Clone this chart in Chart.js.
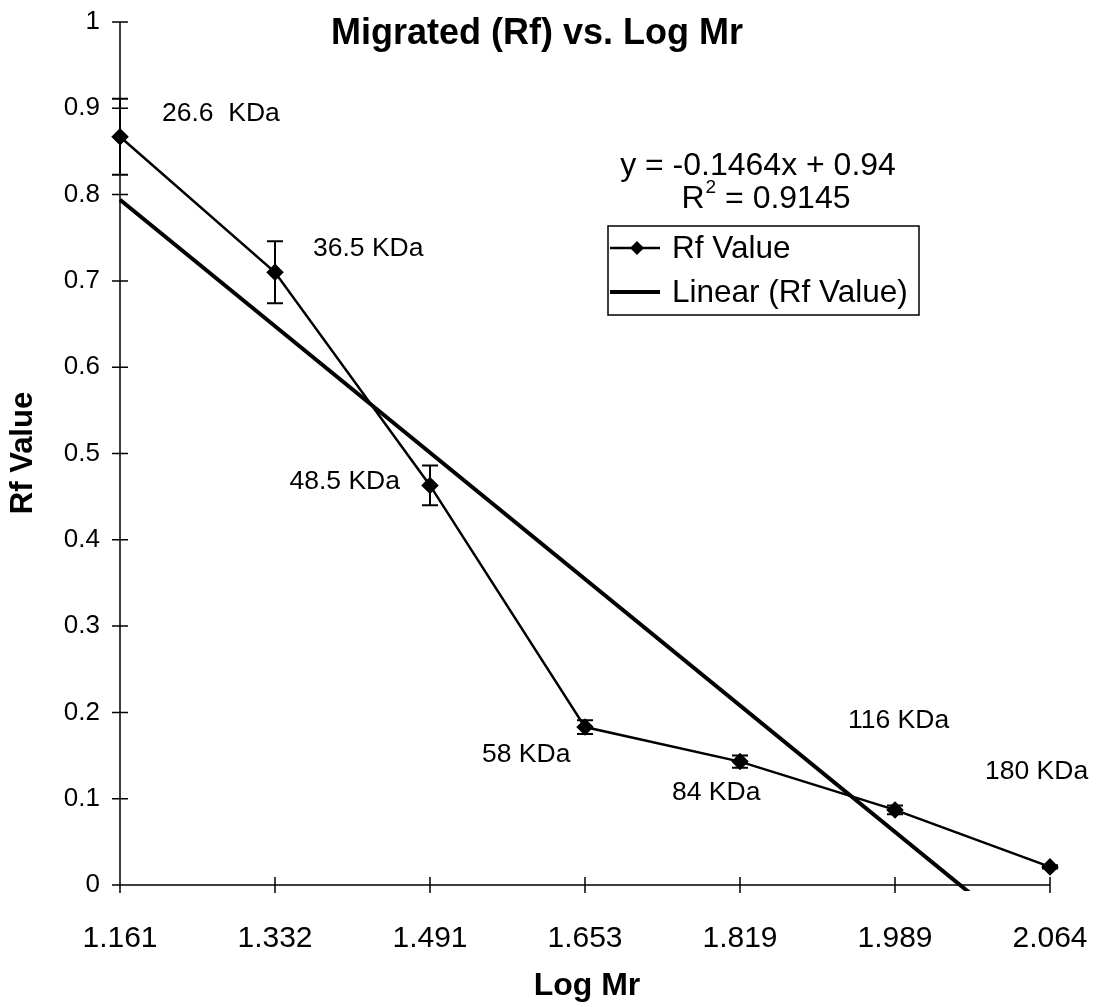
<!DOCTYPE html>
<html>
<head>
<meta charset="utf-8">
<title>Migrated (Rf) vs. Log Mr</title>
<script src="https://cdn.jsdelivr.net/npm/chart.js@4.4.1/dist/chart.umd.min.js"></script>
<style>
  html, body { margin: 0; padding: 0; background: #fff; }
  #wrap { width: 1100px; height: 1007px; position: relative; }
</style>
</head>
<body>
<div id="wrap"><canvas id="grafica"></canvas></div>
<script>
// values
const logMr = ["1.161", "1.332", "1.491", "1.653", "1.819", "1.989", "2.064"];
const rfValues = [0.867, 0.710, 0.463, 0.183, 0.143, 0.087, 0.021];
const rfErrors = [0.044, 0.036, 0.023, 0.008, 0.007, 0.005, 0.002];
const kdaLabels = ["26.6  KDa", "36.5 KDa", "48.5 KDa", "58 KDa", "84 KDa", "116 KDa", "180 KDa"];
// linear trend, only the two ends (y = -0.1464x + 0.94)
const trendValues = [0.794, null, null, null, null, null, -0.085];
const yTicks = [0, 0.1, 0.2, 0.3, 0.4, 0.5, 0.6, 0.7, 0.8, 0.9, 1];

const FONT = '"Liberation Sans", Arial, Helvetica, sans-serif';
Chart.defaults.font.family = FONT;
Chart.defaults.color = "#000";

// label placement next to each point: dx, dy, align
const labelPos = [
  [42, -23, "left"], [38, -24, "left"], [-30, -4, "right"], [-103, 28, "left"],
  [-68, 31, "left"], [-47, -89, "left"], [-65, -95, "left"]
];

const extras = {
  id: "extras",
  beforeDatasetsDraw(chart) {
    const ctx = chart.ctx, a = chart.chartArea;
    const xs = chart.scales.x, ys = chart.scales.y;
    ctx.save();
    ctx.strokeStyle = "#000";
    ctx.lineWidth = 1.5;
    ctx.beginPath();
    ctx.moveTo(a.left, a.top);
    ctx.lineTo(a.left, a.bottom);
    ctx.lineTo(a.right, a.bottom);
    yTicks.forEach(v => {
      const py = ys.getPixelForValue(v);
      ctx.moveTo(a.left - 8, py);
      ctx.lineTo(a.left + 8, py);
    });
    logMr.forEach((_, i) => {
      const px = xs.getPixelForValue(i);
      ctx.moveTo(px, a.bottom - 8);
      ctx.lineTo(px, a.bottom + 8);
    });
    ctx.stroke();
    ctx.restore();
  },
  afterDatasetsDraw(chart) {
    const ctx = chart.ctx;
    const xs = chart.scales.x, ys = chart.scales.y;
    ctx.save();
    // error bars
    ctx.strokeStyle = "#000";
    ctx.lineWidth = 2;
    rfValues.forEach((v, i) => {
      const px = xs.getPixelForValue(i);
      const top = ys.getPixelForValue(v + rfErrors[i]);
      const bot = ys.getPixelForValue(v - rfErrors[i]);
      ctx.beginPath();
      ctx.moveTo(px, top); ctx.lineTo(px, bot);
      ctx.moveTo(px - 8, top); ctx.lineTo(px + 8, top);
      ctx.moveTo(px - 8, bot); ctx.lineTo(px + 8, bot);
      ctx.stroke();
    });

    // point labels
    ctx.fillStyle = "#000";
    ctx.font = "26.5px " + FONT;
    ctx.textBaseline = "middle";
    kdaLabels.forEach((t, i) => {
      const px = xs.getPixelForValue(i);
      const py = ys.getPixelForValue(rfValues[i]);
      ctx.textAlign = labelPos[i][2];
      ctx.fillText(t, px + labelPos[i][0], py + labelPos[i][1]);
    });

    // title and axis titles
    ctx.textAlign = "center";
    ctx.font = "bold 36px " + FONT;
    ctx.fillText("Migrated (Rf) vs. Log Mr", 537, 34);
    ctx.font = "bold 32px " + FONT;
    ctx.fillText("Log Mr", 587, 986);
    ctx.save();
    ctx.translate(23, 453);
    ctx.rotate(-Math.PI / 2);
    ctx.font = "bold 31px " + FONT;
    ctx.fillText("Rf Value", 0, 0);
    ctx.restore();

    // trendline equation
    ctx.font = "32px " + FONT;
    ctx.fillText("y = -0.1464x + 0.94", 758, 166);
    const r2a = "R", r2b = "2", r2c = " = 0.9145";
    const wA = ctx.measureText(r2a).width, wC = ctx.measureText(r2c).width;
    ctx.font = "19px " + FONT;
    const wB = ctx.measureText(r2b).width + 1;
    let ex = 766 - (wA + wB + wC) / 2;
    ctx.textAlign = "left";
    ctx.font = "32px " + FONT;
    ctx.fillText(r2a, ex, 199);
    ctx.font = "19px " + FONT;
    ctx.fillText(r2b, ex + wA + 1, 188);
    ctx.font = "32px " + FONT;
    ctx.fillText(r2c, ex + wA + wB, 199);

    // legend box
    ctx.lineWidth = 1.5;
    ctx.strokeRect(608, 226, 311, 89);
    ctx.lineWidth = 2.5;
    ctx.beginPath();
    ctx.moveTo(610, 248); ctx.lineTo(660, 248);
    ctx.stroke();
    ctx.beginPath();
    ctx.moveTo(637, 241); ctx.lineTo(644, 248); ctx.lineTo(637, 255); ctx.lineTo(630, 248);
    ctx.closePath();
    ctx.fill();
    ctx.lineWidth = 4;
    ctx.beginPath();
    ctx.moveTo(610, 292); ctx.lineTo(660, 292);
    ctx.stroke();
    ctx.font = "31.5px " + FONT;
    ctx.fillText("Rf Value", 672, 249);
    ctx.fillText("Linear (Rf Value)", 672, 293);
    ctx.restore();
  }
};

document.addEventListener("DOMContentLoaded", function () {
  const ctx = document.getElementById("grafica").getContext("2d");
  new Chart(ctx, {
    type: "line",
    data: {
      labels: logMr,
      datasets: [
        {
          label: "Rf Value",
          data: rfValues,
          borderColor: "#000",
          backgroundColor: "#000",
          borderWidth: 2.5,
          pointStyle: "rectRot",
          pointRadius: 7,
          pointBackgroundColor: "#000",
          tension: 0,
        },
        {
          label: "Linear (Rf Value)",
          data: trendValues,
          borderColor: "#000",
          borderWidth: 4,
          pointRadius: 0,
          spanGaps: true,
          tension: 0,
          clip: { left: 2, top: 2, right: 2, bottom: 6 },
        },
      ],
    },
    options: {
      responsive: true,
      maintainAspectRatio: false,
      animation: false,
      layout: { padding: { top: 22, right: 50, left: 0, bottom: 0 } },
      plugins: {
        legend: { display: false },
        title: { display: false },
        tooltip: { enabled: false },
      },
      scales: {
        x: {
          offset: false,
          grid: { display: false },
          border: { display: false },
          ticks: { font: { size: 30 }, padding: 28, maxRotation: 0, autoSkip: false },
          afterFit(scale) {
            scale.height = 122;
            scale.paddingLeft = 0;
            scale.paddingRight = 0;
          },
        },
        y: {
          min: 0,
          max: 1,
          grid: { display: false },
          border: { display: false },
          ticks: {
            stepSize: 0.1,
            font: { size: 26 },
            padding: 12,
            callback: v => String(Math.round(v * 10) / 10),
          },
          afterFit(scale) {
            scale.width = 120;
            scale.paddingTop = 0;
            scale.paddingBottom = 0;
          },
        },
      },
    },
    plugins: [extras],
  });
});
</script>
</body>
</html>
